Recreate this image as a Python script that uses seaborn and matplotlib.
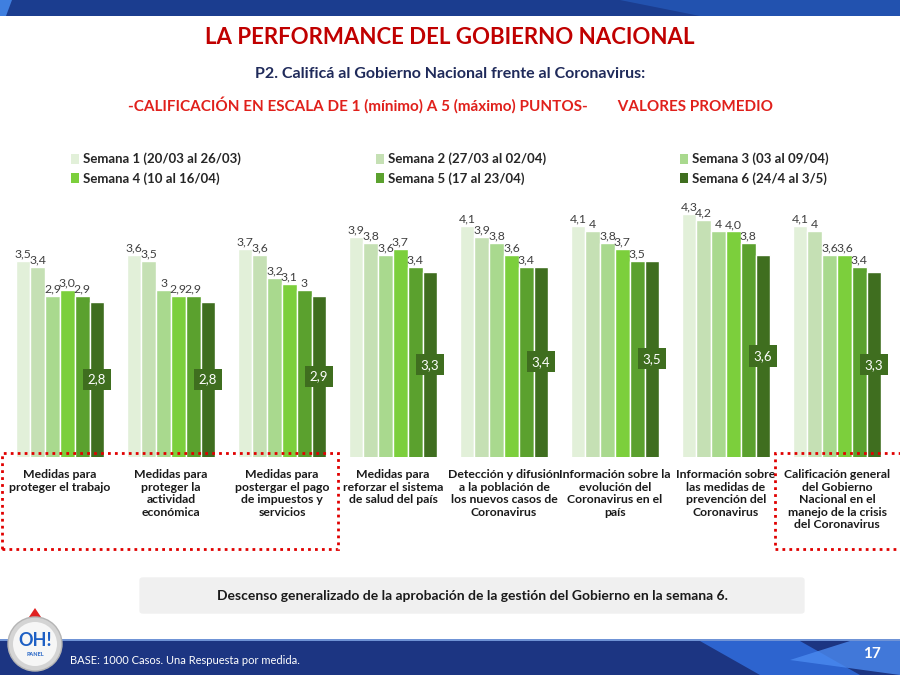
import numpy as np
import pandas as pd
import matplotlib
matplotlib.use("Agg")
import matplotlib.pyplot as plt
from matplotlib.patches import Rectangle, FancyBboxPatch, Ellipse, Polygon, Patch
import seaborn as sns

# =============================
# Data
# =============================
categorias = [
    "Medidas para\nproteger el trabajo",
    "Medidas para\nproteger la\nactividad\neconómica",
    "Medidas para\npostergar el pago\nde impuestos y\nservicios",
    "Medidas para\nreforzar el sistema\nde salud del país",
    "Detección y difusión\na la población de\nlos nuevos casos de\nCoronavirus",
    "Información sobre la\nevolución del\nCoronavirus en el\npaís",
    "Información sobre\nlas medidas de\nprevención del\nCoronavirus",
    "Calificación general\ndel Gobierno\nNacional en el\nmanejo de la crisis\ndel Coronavirus",
]
semanas = [
    "Semana 1 (20/03 al 26/03)",
    "Semana 2 (27/03 al 02/04)",
    "Semana 3 (03 al 09/04)",
    "Semana 4 (10 al 16/04)",
    "Semana 5 (17 al 23/04)",
    "Semana 6 (24/4 al 3/5)",
]
semana1 = [3.5, 3.6, 3.7, 3.9, 4.1, 4.1, 4.3, 4.1]
semana2 = [3.4, 3.5, 3.6, 3.8, 3.9, 4.0, 4.2, 4.0]
semana3 = [2.9, 3.0, 3.2, 3.6, 3.8, 3.8, 4.0, 3.6]
semana4 = [3.0, 2.9, 3.1, 3.7, 3.6, 3.7, 4.0, 3.6]
semana5 = [2.9, 2.9, 3.0, 3.4, 3.4, 3.5, 3.8, 3.4]
semana6 = [2.8, 2.8, 2.9, 3.3, 3.4, 3.5, 3.6, 3.3]

# labels as printed on the slide (formatting is not uniform)
etiq1 = ["3,5", "3,6", "3,7", "3,9", "4,1", "4,1", "4,3", "4,1"]
etiq2 = ["3,4", "3,5", "3,6", "3,8", "3,9", "4", "4,2", "4"]
etiq3 = ["2,9", "3", "3,2", "3,6", "3,8", "3,8", "4", "3,6"]
etiq4 = ["3,0", "2,9", "3,1", "3,7", "3,6", "3,7", "4,0", "3,6"]
etiq5 = ["2,9", "2,9", "3", "3,4", "3,4", "3,5", "3,8", "3,4"]
etiq6 = ["2,8", "2,8", "2,9", "3,3", "3,4", "3,5", "3,6", "3,3"]

colores = ["#e2f0d9", "#c5e0b4", "#a9d98e", "#7ccf3c", "#5ba12e", "#3f6e1f"]

valores = [semana1, semana2, semana3, semana4, semana5, semana6]
etiquetas = [etiq1, etiq2, etiq3, etiq4, etiq5, etiq6]

rows = []
for s, vals in zip(semanas, valores):
    for c, v in zip(categorias, vals):
        rows.append({"Categoria": c, "Semana": s, "Valor": v})
df = pd.DataFrame(rows)

# =============================
# Figure
# =============================
sns.set_style("white")
plt.rcParams["font.family"] = ["Lato", "DejaVu Sans"]

W, H = 900, 675
fig = plt.figure(figsize=(9, 6.75), dpi=100)


def fx(x):
    return x / W


def fy(y):
    return 1 - y / H


# header banner
fig.patches.append(Rectangle((0, fy(16)), 1, 16 / H, transform=fig.transFigure,
                             facecolor="#1b3d8f", edgecolor="none", zorder=0))
fig.patches.append(Polygon([(fx(0), fy(0)), (fx(12), fy(0)), (fx(6), fy(16)), (fx(0), fy(16))],
                           closed=True, transform=fig.transFigure, facecolor="#3f7fe0",
                           edgecolor="none", zorder=1))
fig.patches.append(Polygon([(fx(620), fy(0)), (fx(900), fy(0)), (fx(900), fy(16)), (fx(700), fy(16))],
                           closed=True, transform=fig.transFigure, facecolor="#2458b8",
                           edgecolor="none", zorder=1, alpha=0.8))

# titles
fig.text(0.5, fy(38), "LA PERFORMANCE DEL GOBIERNO NACIONAL", ha="center", va="center",
         fontsize=16, fontweight="bold", color="#c00000")
fig.text(0.5, fy(74), "P2. Calificá al Gobierno Nacional frente al Coronavirus:", ha="center",
         va="center", fontsize=11.5, fontweight="bold", color="#1f2a5a")
fig.text(fx(450), fy(105),
         "-CALIFICACIÓN EN ESCALA DE 1 (mínimo) A 5 (máximo) PUNTOS-        VALORES PROMEDIO",
         ha="center", va="center", fontsize=11, fontweight="bold", color="#e0201b")

# main axes
ax = fig.add_axes([fx(4.5), fy(457), fx(888), (457 - 200) / H])
sns.barplot(data=df, x="Categoria", y="Valor", hue="Semana", palette=colores,
            width=0.8, saturation=1, errorbar=None, legend=False, ax=ax)
ax.set_ylim(0.15, 0.15 + 257 / 58.6)
ax.set_xlim(-0.5, 7.5)
ax.set_xlabel("")
ax.set_ylabel("")
ax.set_yticks([])
sns.despine(ax=ax, left=True, bottom=True)
ax.tick_params(axis="x", length=0, pad=9)
ax.set_xticks(range(len(categorias)))
ax.set_xticklabels(categorias, fontsize=8.8, fontweight="bold", color="#1a1a1a",
                   linespacing=1.15, va="top")

for i, cont in enumerate(ax.containers):
    if i < 5:
        ax.bar_label(cont, labels=etiquetas[i], padding=1, fontsize=8.8, color="#404040")
    else:
        ax.bar_label(cont, labels=etiquetas[i], label_type="center", fontsize=9.5, color="white",
                     bbox=dict(boxstyle="square,pad=0.35", facecolor=colores[5], edgecolor="none"))

# legend in three columns
for col in range(3):
    idx = [col, col + 3]
    handles = [Patch(facecolor=colores[k], edgecolor="none") for k in idx]
    labels = [semanas[k] for k in idx]
    xpos = [64, 369, 673][col]
    fig.legend(handles, labels, loc="upper left", bbox_to_anchor=(fx(xpos), fy(146)),
               frameon=False, handlelength=0.6, handleheight=0.8, handletextpad=0.35,
               labelspacing=0.5, borderpad=0,
               prop={"weight": "bold", "size": 9.5}, labelcolor="#262626")

# dotted red boxes
fig.patches.append(Rectangle((fx(2), fy(549)), fx(336), (549 - 453) / H, transform=fig.transFigure,
                             fill=False, edgecolor="#e00000", linestyle=(0, (1, 1.5)), linewidth=2))
fig.patches.append(Rectangle((fx(775), fy(549)), fx(140), (549 - 453) / H, transform=fig.transFigure,
                             fill=False, edgecolor="#e00000", linestyle=(0, (1, 1.5)), linewidth=2))

# conclusion box
fig.patches.append(FancyBboxPatch((fx(143), fy(611)), fx(658), (611 - 580) / H,
                                  boxstyle="round,pad=0.004", transform=fig.transFigure,
                                  facecolor="#f0f0f0", edgecolor="none"))
fig.text(fx(472), fy(596),
         "Descenso generalizado de la aprobación de la gestión del Gobierno en la semana 6.",
         ha="center", va="center", fontsize=10, fontweight="bold", color="#1a1a1a")

# footer banner
fig.patches.append(Rectangle((0, 0), 1, 35 / H, transform=fig.transFigure,
                             facecolor="#1c3582", edgecolor="none", zorder=0))
fig.patches.append(Rectangle((0, fy(641)), 1, 2 / H, transform=fig.transFigure,
                             facecolor="#6f93d6", edgecolor="none", zorder=1))
fig.patches.append(Polygon([(fx(700), fy(641)), (fx(800), fy(641)), (fx(860), fy(675)), (fx(760), fy(675))],
                           closed=True, transform=fig.transFigure, facecolor="#2f6ad8",
                           edgecolor="none", zorder=1, alpha=0.9))
fig.patches.append(Polygon([(fx(790), fy(660)), (fx(850), fy(641)), (fx(900), fy(641)), (fx(900), fy(675))],
                           closed=True, transform=fig.transFigure, facecolor="#4b8af0",
                           edgecolor="none", zorder=1, alpha=0.8))
fig.text(fx(70), fy(661), "BASE: 1000 Casos. Una Respuesta por medida.", ha="left", va="center",
         fontsize=8, color="white")
fig.text(fx(872), fy(654), "17", ha="center", va="center", fontsize=11, fontweight="bold", color="white")

# logo
fig.patches.append(Polygon([(fx(27), fy(620)), (fx(43), fy(620)), (fx(35), fy(608))], closed=True,
                           transform=fig.transFigure, facecolor="#e02020", edgecolor="none", zorder=3))
fig.patches.append(Rectangle((fx(33), fy(628)), fx(4), 8 / H, transform=fig.transFigure,
                             facecolor="#e02020", edgecolor="none", zorder=3))
fig.patches.append(Ellipse((fx(35), fy(644)), 54 / W, 54 / H, transform=fig.transFigure,
                           facecolor="#d4d4d4", edgecolor="#b5b5b5", zorder=4))
fig.patches.append(Ellipse((fx(35), fy(644)), 44 / W, 44 / H, transform=fig.transFigure,
                           facecolor="#f6f6f6", edgecolor="none", zorder=4))
fig.text(fx(35), fy(640), "OH!", ha="center", va="center", fontsize=13, fontweight="bold",
         color="#1d5fc4", zorder=5)
fig.text(fx(35), fy(655), "PANEL", ha="center", va="center", fontsize=4, fontweight="bold",
         color="#1d5fc4", zorder=5)

plt.savefig("out.png", dpi=100)
plt.close()
